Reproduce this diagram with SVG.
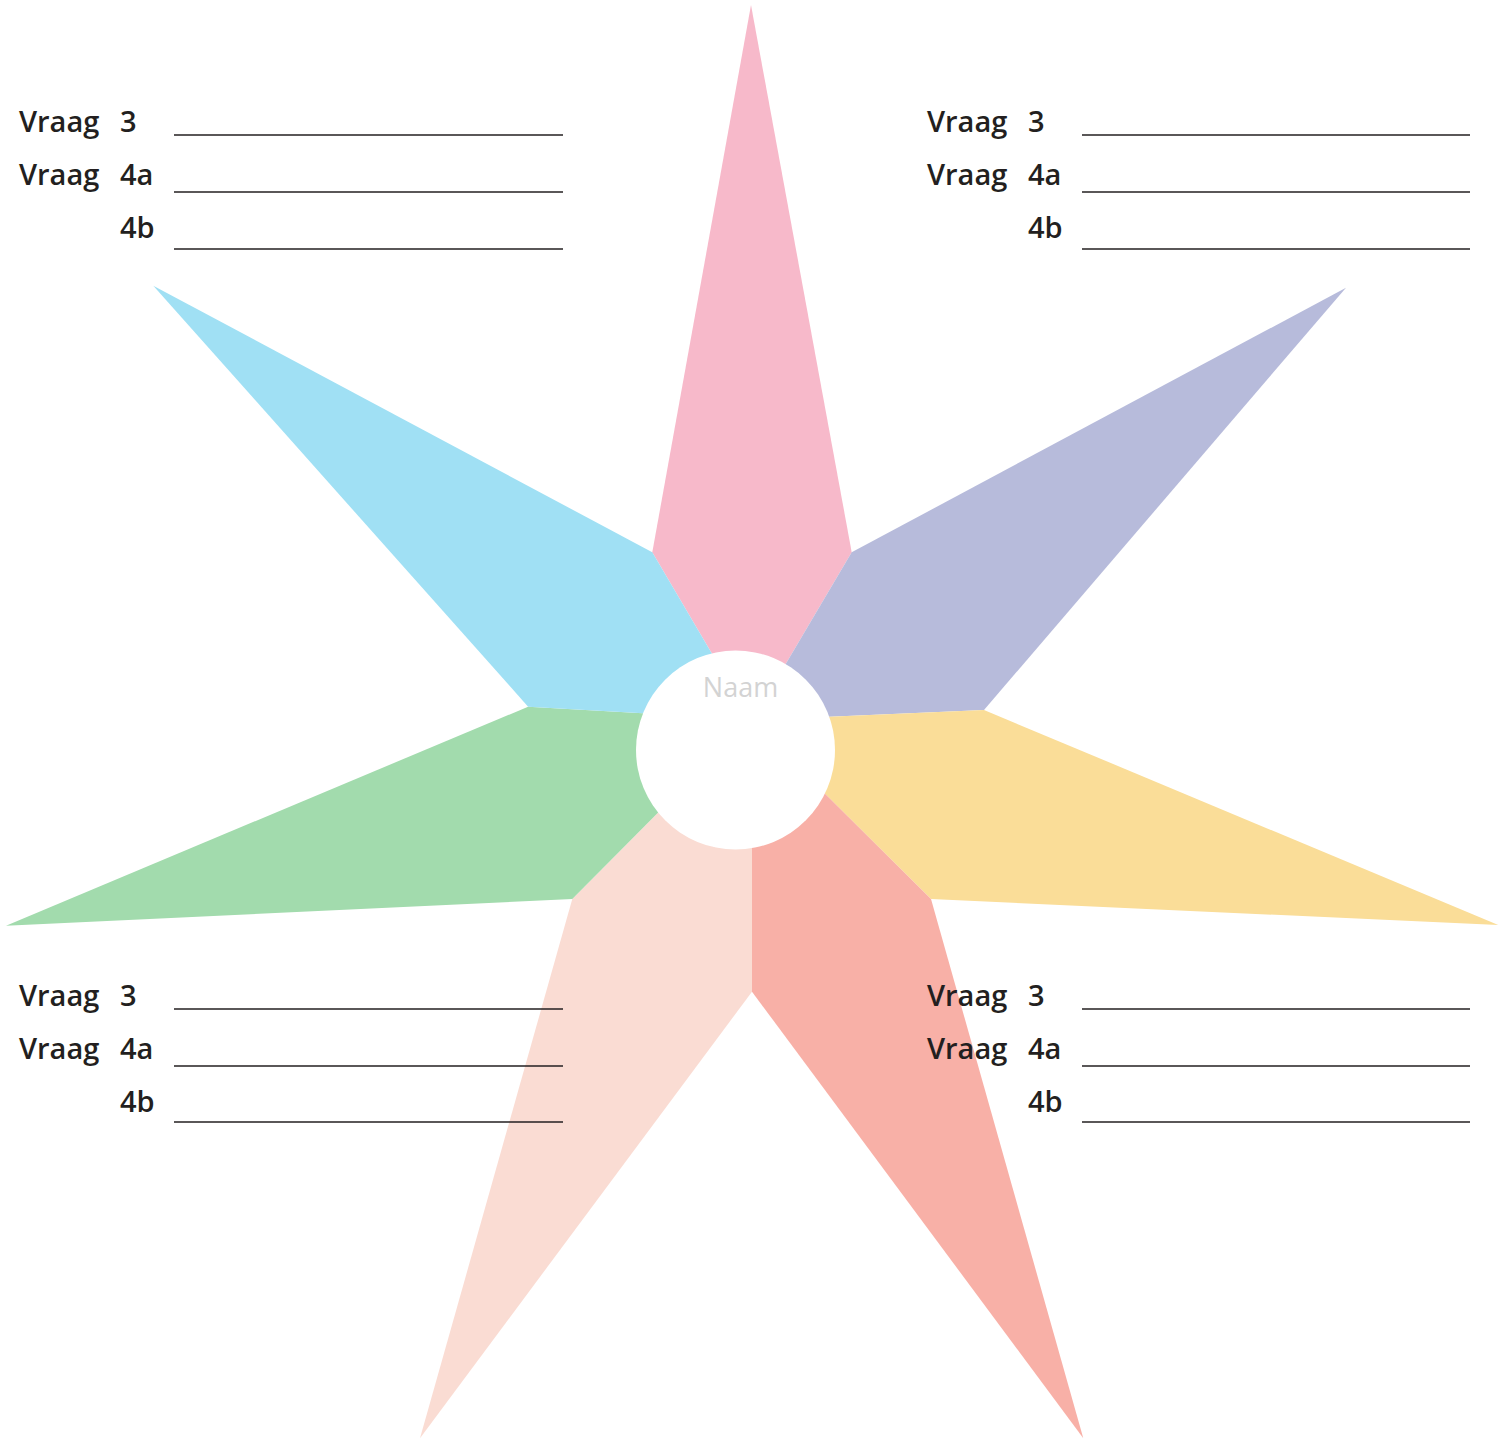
<svg xmlns="http://www.w3.org/2000/svg" width="1511" height="1439" viewBox="0 0 1511 1439">
<style>
.lbl{font-family:"Open Sans","Noto Sans","Liberation Sans",sans-serif;font-weight:600;font-size:29px;fill:#231f20}
.ln{stroke:#231f20;stroke-width:1.3;fill:none}
.naam{font-family:"Open Sans","Noto Sans","Liberation Sans",sans-serif;font-size:27px;fill:#d3d3d3}
</style>
<rect width="1511" height="1439" fill="#ffffff"/>
<g id="star">
<polygon id="petal-pink" fill="#f7b9ca" points="751,5 851.7,552.3 765.3,698.4 732,687.8 652.3,552.3"/>
<polygon id="petal-purple" fill="#b7bbdb" points="1346,287.7 984,710 789.3,718.4 765.3,698.4 851.7,552.3"/>
<polygon id="petal-yellow" fill="#fadd98" points="1498.3,925 931,899 796.9,765.8 789.3,718.4 984,710"/>
<polygon id="petal-red" fill="#f8b0a7" points="1083.3,1438.3 752,991.7 752,808.3 796.9,765.8 931,899"/>
<polygon id="petal-peach" fill="#fadcd3" points="420,1438.3 572.3,899 685.5,784.9 752,808.3 752,991.7"/>
<polygon id="petal-green" fill="#a2dbad" points="6,925.7 528.1,706.7 682.6,715.6 685.5,784.9 572.3,899"/>
<polygon id="petal-blue" fill="#a0e0f4" points="153.3,285.7 652.3,552.3 732,687.8 682.6,715.6 528.1,706.7"/>
</g>
<g id="center">
<circle cx="735.5" cy="750" r="99.5" fill="#ffffff"/>
<text class="naam" x="740.5" y="697" text-anchor="middle">Naam</text>
</g>
<g id="block-top-left">
<text class="lbl" x="19" y="132">Vraag</text><text class="lbl" x="120" y="132">3</text>
<text class="lbl" x="19" y="185">Vraag</text><text class="lbl" x="120" y="185">4a</text>
<text class="lbl" x="120" y="238">4b</text>
</g>
<g id="block-top-right">
<text class="lbl" x="927" y="132">Vraag</text><text class="lbl" x="1028" y="132">3</text>
<text class="lbl" x="927" y="185">Vraag</text><text class="lbl" x="1028" y="185">4a</text>
<text class="lbl" x="1028" y="238">4b</text>
</g>
<g id="block-bottom-left">
<text class="lbl" x="19" y="1006">Vraag</text><text class="lbl" x="120" y="1006">3</text>
<text class="lbl" x="19" y="1059">Vraag</text><text class="lbl" x="120" y="1059">4a</text>
<text class="lbl" x="120" y="1112">4b</text>
</g>
<g id="block-bottom-right">
<text class="lbl" x="927" y="1006">Vraag</text><text class="lbl" x="1028" y="1006">3</text>
<text class="lbl" x="927" y="1059">Vraag</text><text class="lbl" x="1028" y="1059">4a</text>
<text class="lbl" x="1028" y="1112">4b</text>
</g>
<g id="connectors">
<line class="ln" x1="174" y1="135" x2="563" y2="135"/>
<line class="ln" x1="174" y1="192" x2="563" y2="192"/>
<line class="ln" x1="174" y1="249" x2="563" y2="249"/>
<line class="ln" x1="1082" y1="135" x2="1470" y2="135"/>
<line class="ln" x1="1082" y1="192" x2="1470" y2="192"/>
<line class="ln" x1="1082" y1="249" x2="1470" y2="249"/>
<line class="ln" x1="174" y1="1009" x2="563" y2="1009"/>
<line class="ln" x1="174" y1="1066" x2="563" y2="1066"/>
<line class="ln" x1="174" y1="1122" x2="563" y2="1122"/>
<line class="ln" x1="1082" y1="1009" x2="1470" y2="1009"/>
<line class="ln" x1="1082" y1="1066" x2="1470" y2="1066"/>
<line class="ln" x1="1082" y1="1122" x2="1470" y2="1122"/>
</g>
</svg>
